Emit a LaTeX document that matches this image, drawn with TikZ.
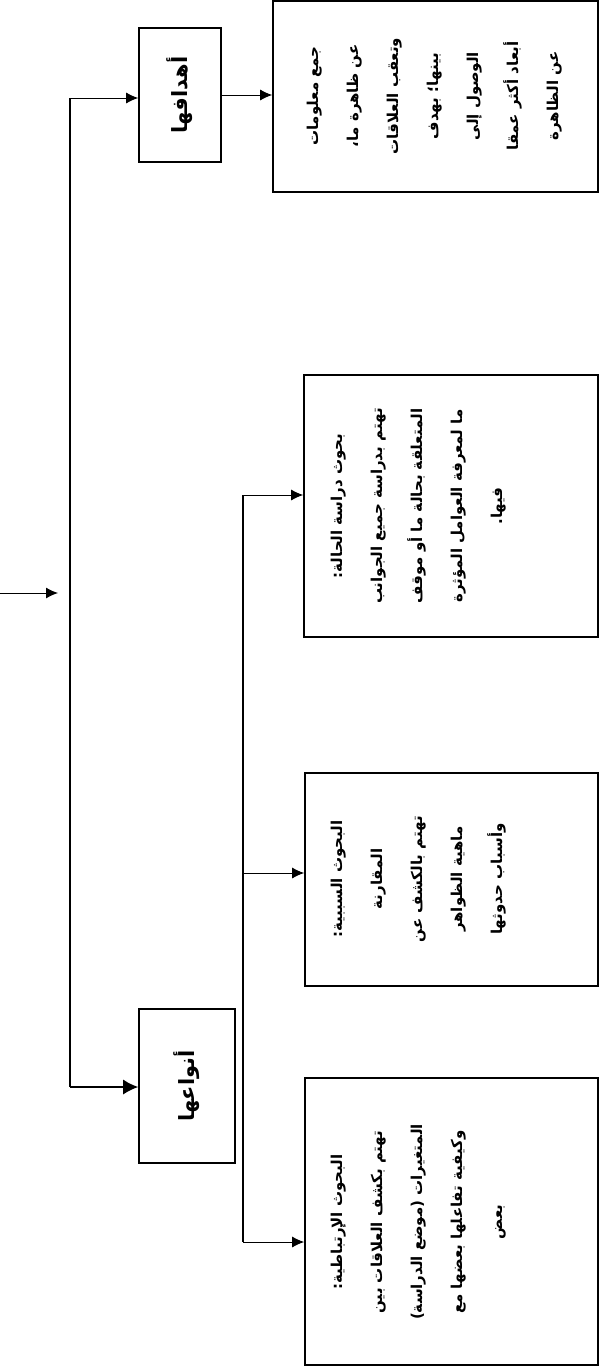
\documentclass[tikz,border=0pt]{standalone}
\usepackage{fontspec}
\usepackage{graphicx}
\TeXXeTstate=1
\newfontfamily\arabicfont[Script=Arabic]{DejaVu Sans}
\usetikzlibrary{arrows.meta}
\newcommand{\rl}[1]{\beginR #1\endR}
\newcommand{\vtext}[2]{\rotatebox{90}{\arabicfont\bfseries\fontsize{#1}{40}\selectfont\begin{tabular}{@{}c@{}}#2\end{tabular}}}
\begin{document}
\begin{tikzpicture}[x=1pt,y=-1pt,
  box/.style={draw, line width=1.6pt, inner sep=0pt},
  lbl/.style={inner sep=0pt},
  arr/.style={-{Latex[length=12pt,width=11pt]}, line width=1pt},
  bigarr/.style={-{Latex[length=15pt,width=15pt]}, line width=1.4pt},
  bar/.style={line width=2pt}]
\useasboundingbox (0,0) rectangle (600,1371);
% boxes
\node[box, minimum width=82pt, minimum height=134pt] (a1) at (180,95) {\rotatebox{90}{\arabicfont\bfseries\fontsize{21}{24}\selectfont\rl{أهدافها}}};
\node[box, minimum width=96pt, minimum height=154pt] (a2) at (187,1086) {\rotatebox{90}{\arabicfont\bfseries\fontsize{21}{24}\selectfont\rl{أنواعها}}};
\node[box, minimum width=325pt, minimum height=191pt] (b1) at (435.5,96.5) {};
\node[box, minimum width=294pt, minimum height=262pt] (b2) at (451,506) {};
\node[box, minimum width=293pt, minimum height=213pt] (b3) at (451.5,879.5) {};
\node[box, minimum width=293pt, minimum height=287pt] (b4) at (451.5,1221.5) {};
% texts
\node[lbl] (t1) at (430,96) {\vtext{15}{\rl{جمع معلومات}\\ \rl{عن ظاهرة ما،}\\ \rl{وتعقب العلاقات}\\ \rl{بينها؛ بهدف}\\ \rl{الوصول إلى}\\ \rl{أبعاد أكثر عمقا}\\ \rl{عن الظاهرة}}};
\node[lbl, anchor=west] (t2) at (314,506) {\vtext{15}{\rl{بحوث دراسة الحالة:}\\ \rl{تهتم بدراسة جميع الجوانب}\\ \rl{المتعلقة بحالة ما أو موقف}\\ \rl{ما لمعرفة العوامل المؤثرة}\\ \rl{فيها.}}};
\node[lbl, anchor=west] (t3) at (314,879) {\vtext{15}{\rl{البحوث السببية:}\\ \rl{المقارنة}\\ \rl{تهتم بالكشف عن}\\ \rl{ماهية الظواهر}\\ \rl{وأسباب حدوثها}}};
\node[lbl, anchor=west] (t4) at (314,1222) {\vtext{15}{\rl{البحوث الإرتباطية:}\\ \rl{تهتم بكشف العلاقات بين}\\ \rl{المتغيرات (موضع الدراسة)}\\ \rl{وكيفية تفاعلها بعضها مع}\\ \rl{بعض}}};
% main bar
\coordinate (in) at (0,593);
\coordinate (inend) at (58,593);
\coordinate (mt) at (70,98);
\coordinate (mb) at (70,1087);
\draw[arr] (in) -- (inend);
\draw[bar] (mt) -- (mb);
\draw[arr] (mt) -- (mt -| a1.west);
\draw[bigarr] (mb) -- (mb -| a2.west);
\draw[arr] (a1.east) -- (a1.east -| b1.west);
% second bar
\coordinate (st) at (243,495);
\coordinate (sm) at (243,873);
\coordinate (sb) at (243,1242);
\draw[bar] (st) -- (sb);
\draw[arr] (st) -- (st -| b2.west);
\draw[arr] (sm) -- (sm -| b3.west);
\draw[arr] (sb) -- (sb -| b4.west);
\end{tikzpicture}
\end{document}
